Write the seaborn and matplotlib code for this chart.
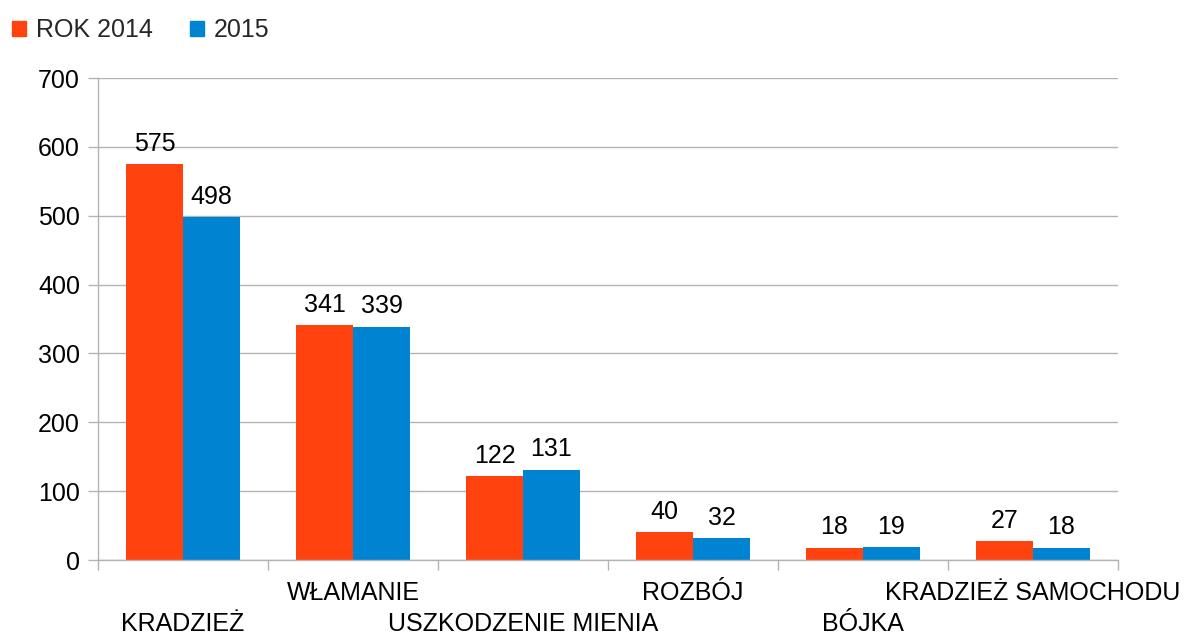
import matplotlib
matplotlib.use("Agg")
import matplotlib.pyplot as plt
import seaborn as sns
import pandas as pd
from matplotlib.patches import Patch

categories = ["KRADZIEŻ", "WŁAMANIE", "USZKODZENIE MIENIA", "ROZBÓJ", "BÓJKA", "KRADZIEŻ SAMOCHODU"]
series_names = ["ROK 2014", "2015"]
values_2014 = [575, 341, 122, 40, 18, 27]
values_2015 = [498, 339, 131, 32, 19, 18]
colors = ["#FF420E", "#0084D1"]

df = pd.DataFrame({
    "cat": categories * 2,
    "series": [series_names[0]] * len(categories) + [series_names[1]] * len(categories),
    "value": values_2014 + values_2015,
})

sns.set_theme(style="white")
plt.rcParams["font.family"] = ["Liberation Sans", "DejaVu Sans"]
FS = 18

fig = plt.figure(figsize=(11.84, 6.35), dpi=100)
ax = fig.add_axes([98 / 1184, 1 - 560 / 635, (1118 - 98) / 1184, (560 - 78) / 635])

sns.barplot(data=df, x="cat", y="value", hue="series", palette=colors,
            width=0.67, saturation=1, ax=ax, legend=False, linewidth=0)

ax.set_xlim(-0.5, len(categories) - 0.5)
ax.set_ylim(0, 700)
ax.set_yticks(range(0, 701, 100))
ax.yaxis.grid(True, color="#B3B3B3", linewidth=1)
ax.set_axisbelow(True)
ax.set_xlabel("")
ax.set_ylabel("")
for s in ["top", "right"]:
    ax.spines[s].set_visible(False)
for s in ["left", "bottom"]:
    ax.spines[s].set_color("#B3B3B3")
    ax.spines[s].set_linewidth(1)

ax.tick_params(axis="y", which="major", left=True, length=7, width=1, color="#B3B3B3",
               labelsize=FS, pad=6, labelcolor="black")
# category boundary ticks
ax.set_xticks([i - 0.5 for i in range(len(categories) + 1)])
ax.set_xticklabels([])
ax.tick_params(axis="x", which="major", bottom=True, length=7, width=1, color="#B3B3B3")

xt = ax.get_xaxis_transform()
for i, c in enumerate(categories):
    off = -33 / 482 if i % 2 == 1 else -64 / 482
    ax.text(i, off, c, transform=xt, ha="center", va="center", fontsize=FS, color="black")

for cont in ax.containers:
    ax.bar_label(cont, fontsize=FS, padding=6, color="black")

handles = [Patch(color=colors[0], label=series_names[0]), Patch(color=colors[1], label=series_names[1])]
fig.legend(handles=handles, loc="upper left", bbox_to_anchor=(-0.005, 0.999), ncol=2, frameon=False,
           fontsize=FS, handlelength=0.56, handleheight=0.56, handletextpad=0.4, columnspacing=1.5,
           borderaxespad=0.3)

fig.savefig("out.png", dpi=100)
